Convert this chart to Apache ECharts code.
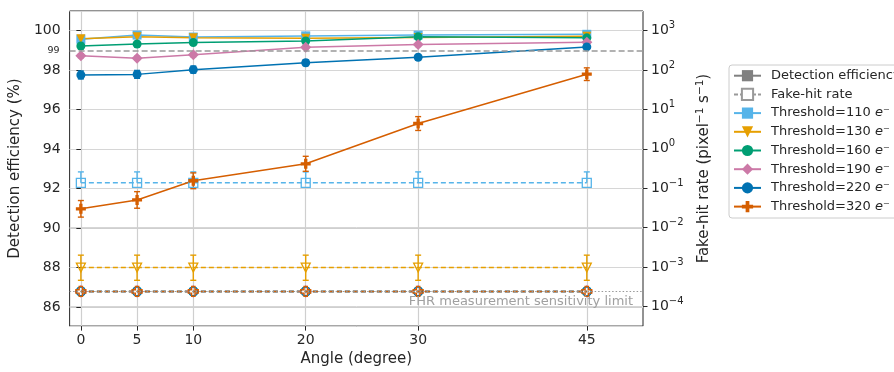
<!DOCTYPE html>
<html><head><meta charset="utf-8">
<script src="https://cdn.jsdelivr.net/npm/echarts@6/dist/echarts.min.js"></script>
<style>html,body{margin:0;padding:0;background:#fff}#c{width:894px;height:372px}</style>
</head><body><div id="c"></div>
<script>
// ---- data ----
const angles = [0, 5, 10, 20, 30, 45];
const xTicks = [0, 5, 10, 20, 30, 45];
const effTicks = [86, 88, 90, 92, 94, 96, 98, 100];
const effRefLine = 99;
const fhrTicks = [1e-4, 1e-3, 1e-2, 1e-1, 1, 10, 100, 1000];
const fhrLimit = 2.4e-4;
const thresholds = ['110', '130', '160', '190', '220', '320'];

const eff110 = [99.57, 99.78, 99.68, 99.74, 99.78, 99.82];
const eff130 = [99.60, 99.70, 99.65, 99.62, 99.66, 99.72];
const eff160 = [99.23, 99.33, 99.40, 99.48, 99.69, 99.64];
const eff190 = [98.73, 98.61, 98.78, 99.17, 99.30, 99.42];
const eff220 = [97.76, 97.79, 98.03, 98.38, 98.66, 99.18];
const eff320 = [90.98, 91.43, 92.40, 93.26, 95.30, 97.80];

const effErr110 = [0.05, 0.05, 0.05, 0.05, 0.05, 0.05];
const effErr130 = [0.05, 0.05, 0.05, 0.05, 0.05, 0.05];
const effErr160 = [0.07, 0.07, 0.07, 0.07, 0.07, 0.07];
const effErr190 = [0.10, 0.10, 0.10, 0.10, 0.10, 0.10];
const effErr220 = [0.20, 0.20, 0.18, 0.15, 0.13, 0.10];
const effErr320 = [0.42, 0.42, 0.40, 0.38, 0.35, 0.32];

const fhr110 = [0.137, 0.137, 0.137, 0.137, 0.137, 0.137];
const fhr130 = [9.7e-4, 9.7e-4, 9.7e-4, 9.7e-4, 9.7e-4, 9.7e-4];
const fhr160 = [2.4e-4, 2.4e-4, 2.4e-4, 2.4e-4, 2.4e-4, 2.4e-4];
const fhr190 = [2.4e-4, 2.4e-4, 2.4e-4, 2.4e-4, 2.4e-4, 2.4e-4];
const fhr220 = [2.4e-4, 2.4e-4, 2.4e-4, 2.4e-4, 2.4e-4, 2.4e-4];
const fhr320 = [2.4e-4, 2.4e-4, 2.4e-4, 2.4e-4, 2.4e-4, 2.4e-4];

const fhrHi110 = [0.26, 0.26, 0.26, 0.26, 0.26, 0.26];
const fhrLo110 = [null, null, null, null, null, null];
const fhrHi130 = [2.0e-3, 2.0e-3, 2.0e-3, 2.0e-3, 2.0e-3, 2.0e-3];
const fhrLo130 = [4.6e-4, 4.6e-4, 4.6e-4, 4.6e-4, 4.6e-4, 4.6e-4];

// ---- styles ----
const FONT = 'DejaVu Sans';
const TXT = '#262626';
const TICK_FS = 14;
const NAME_FS = 15;
const LEG_FS = 13;
const colors = ['#56B4E9', '#E69F00', '#009E73', '#CC79A7', '#0072B2', '#D55E00'];
const PLUS = 'path://M2,0H4V2H6V4H4V6H2V4H0V2H2Z';
const symbols = ['rect', 'triangle', 'circle', 'diamond', 'circle', PLUS];
const rotates = [0, 180, 0, 0, 0, 0];
const sizes = [9, 9, 9, 11, 9, 10];

const effs = [eff110, eff130, eff160, eff190, eff220, eff320];
const effErrs = [effErr110, effErr130, effErr160, effErr190, effErr220, effErr320];
const fhrs = [fhr110, fhr130, fhr160, fhr190, fhr220, fhr320];
const fhrHis = [fhrHi110, fhrHi130, null, null, null, null];
const fhrLos = [fhrLo110, fhrLo130, null, null, null, null];

function logLabel(v) {
  const e = Math.round(Math.log10(v));
  return '10{sup|' + String(e).replace('-', '\u2212') + '}';
}

function errRenderer(color) {
  return function (params, api) {
    const x = api.value(0), c = api.value(1), hi = api.value(2), lo = api.value(3), hasLo = api.value(4);
    const pHi = api.coord([x, hi]);
    const pLo = api.coord([x, hasLo ? lo : c]);
    const cw = 3;
    const st = { stroke: color, lineWidth: 1.4 };
    const ch = [
      { type: 'line', shape: { x1: pHi[0], y1: pHi[1], x2: pLo[0], y2: pLo[1] }, style: st },
      { type: 'line', shape: { x1: pHi[0] - cw, y1: pHi[1], x2: pHi[0] + cw, y2: pHi[1] }, style: st }
    ];
    if (hasLo) ch.push({ type: 'line', shape: { x1: pLo[0] - cw, y1: pLo[1], x2: pLo[0] + cw, y2: pLo[1] }, style: st });
    return { type: 'group', children: ch };
  };
}

const series = [];
// legend proxies
series.push({ name: 'Detection efficiency', type: 'line', data: [], symbol: 'rect', symbolSize: 9,
  itemStyle: { color: '#808080' }, lineStyle: { color: '#808080', width: 1.5 } });
series.push({ name: 'Fake-hit rate', type: 'line', data: [], symbol: 'emptyRect', symbolSize: 9,
  itemStyle: { color: '#999999' }, lineStyle: { color: '#999999', width: 1.5, type: [4, 2] } });

thresholds.forEach((t, i) => {
  const name = 'Threshold=' + t + ' e⁻';
  const c = colors[i];
  const effSeries = {
    name, type: 'line', xAxisIndex: 0, yAxisIndex: 0, z: 4,
    data: angles.map((a, k) => [a, effs[i][k]]),
    symbol: symbols[i], symbolRotate: rotates[i], symbolSize: sizes[i], symbolKeepAspect: true,
    itemStyle: { color: c }, lineStyle: { color: c, width: 1.5 }, emphasis: { disabled: true }
  };
  if (i === 0) {
    effSeries.markLine = {
      silent: true, symbol: 'none', animation: false, precision: 6,
      lineStyle: { color: '#999999', type: [6, 3], width: 1.5 },
      label: { show: true, position: 'start', distance: 10, formatter: '99', fontSize: 9.5, color: TXT, fontFamily: FONT },
      data: [{ yAxis: effRefLine }]
    };
  }
  series.push(effSeries);
  series.push({
    type: 'custom', xAxisIndex: 0, yAxisIndex: 0, z: 3, silent: true, clip: true,
    renderItem: errRenderer(c), encode: { x: 0, y: [1, 2, 3] },
    data: angles.map((a, k) => [a, effs[i][k], effs[i][k] + effErrs[i][k], effs[i][k] - effErrs[i][k], 1])
  });
  const fhrSeries = {
    name, type: 'line', xAxisIndex: 0, yAxisIndex: 1, z: 4,
    data: angles.map((a, k) => [a, fhrs[i][k]]),
    symbol: symbols[i], symbolRotate: rotates[i], symbolSize: sizes[i], symbolKeepAspect: true,
    itemStyle: { color: 'rgba(255,255,255,0)', borderColor: c, borderWidth: 1.3 },
    lineStyle: { color: c, width: 1.5, type: [5, 3] }, emphasis: { disabled: true }
  };
  if (i === 5) {
    fhrSeries.markLine = {
      silent: true, symbol: 'none', animation: false, precision: 10,
      lineStyle: { color: '#999999', type: [1.5, 2], width: 1.2 },
      label: { show: true, position: 'insideEndBottom', distance: 4, formatter: 'FHR measurement sensitivity limit',
        fontSize: 13, color: '#a0a0a0', fontFamily: FONT, padding: [0, 6, 0, 0] },
      data: [{ yAxis: fhrLimit }]
    };
  }
  series.push(fhrSeries);
  if (fhrHis[i]) {
    series.push({
      type: 'custom', xAxisIndex: 0, yAxisIndex: 1, z: 3, silent: true, clip: true,
      renderItem: errRenderer(c), encode: { x: 0, y: [1, 2] },
      data: angles.map((a, k) => [a, fhrs[i][k], fhrHis[i][k], fhrLos[i][k] == null ? fhrs[i][k] : fhrLos[i][k], fhrLos[i][k] == null ? 0 : 1])
    });
  }
});

const legendNames = ['Detection efficiency', 'Fake-hit rate'].concat(thresholds.map(t => 'Threshold=' + t + ' e⁻'));

const option = {
  animation: false,
  backgroundColor: '#ffffff',
  textStyle: { fontFamily: FONT },
  grid: { left: 67, top: 11, width: 576, height: 317, show: true, borderColor: TXT, borderWidth: 1, backgroundColor: 'rgba(0,0,0,0)', containLabel: false },
  legend: {
    orient: 'vertical', left: 729, top: 65,
    itemWidth: 27, itemHeight: 14, itemGap: 4.7,
    padding: [3.7, 8, 4.4, 4],
    borderColor: '#cccccc', borderWidth: 1, borderRadius: 3, backgroundColor: '#ffffff',
    selectedMode: false,
    textStyle: { fontSize: LEG_FS, color: TXT, fontFamily: FONT, lineHeight: 14, padding: [0, 0, 0, 5],
      rich: { it: { fontStyle: 'italic', fontSize: LEG_FS, fontFamily: FONT, color: TXT, lineHeight: 14 } } },
    formatter: n => n.replace(/ e⁻$/, ' {it|e}⁻'),
    data: legendNames
  },
  xAxis: {
    type: 'value', min: -1, max: 50,
    name: 'Angle (degree)', nameLocation: 'middle', nameGap: 22,
    nameTextStyle: { fontSize: NAME_FS, color: TXT, fontFamily: FONT },
    axisLine: { show: false },
    axisTick: { show: true, length: 4.5, customValues: xTicks, lineStyle: { color: TXT } },
    axisLabel: { customValues: xTicks, fontSize: TICK_FS, color: TXT, margin: 7, fontFamily: FONT },
    splitLine: { show: true, lineStyle: { color: '#cfcfcf', width: 1.2 } }
  },
  yAxis: [{
    type: 'value', min: 85.04, max: 101, position: 'left',
    name: 'Detection efficiency (%)', nameLocation: 'middle', nameGap: 39, nameRotate: 90,
    nameTextStyle: { fontSize: NAME_FS, color: TXT, fontFamily: FONT },
    axisLine: { show: false },
    axisTick: { show: true, length: 4.5, customValues: effTicks, lineStyle: { color: TXT } },
    axisLabel: { customValues: effTicks, fontSize: TICK_FS, color: TXT, margin: 9, fontFamily: FONT },
    splitLine: { show: true, lineStyle: { color: '#cfcfcf', width: 1.2 } }
  }, {
    type: 'log', logBase: 10, min: Math.pow(10, -4.5), max: Math.pow(10, 3.5), position: 'right',
    name: 'Fake-hit rate (pixel{sup|\u22121} s{sup|\u22121})', nameLocation: 'middle', nameGap: 45, nameRotate: 90,
    nameTextStyle: { fontSize: NAME_FS, color: TXT, fontFamily: FONT, lineHeight: 20,
      rich: { sup: { fontSize: 10.5, lineHeight: 10, verticalAlign: 'top', color: TXT, fontFamily: FONT } } },
    axisLine: { show: false },
    axisTick: { show: true, length: 4.5, lineStyle: { color: TXT } },
    axisLabel: { fontSize: TICK_FS, color: TXT, margin: 8, fontFamily: FONT, showMinLabel: false, showMaxLabel: false,
      lineHeight: 20, formatter: v => logLabel(v),
      rich: { sup: { fontSize: 10, lineHeight: 10, verticalAlign: 'top', color: TXT, fontFamily: FONT } } },
    splitLine: { show: true, lineStyle: { color: '#d6d6d6', width: 1 } }
  }],
  series
};

const chart = echarts.init(document.getElementById('c'), null, { renderer: 'canvas' });
chart.setOption(option);
</script>
</body></html>
